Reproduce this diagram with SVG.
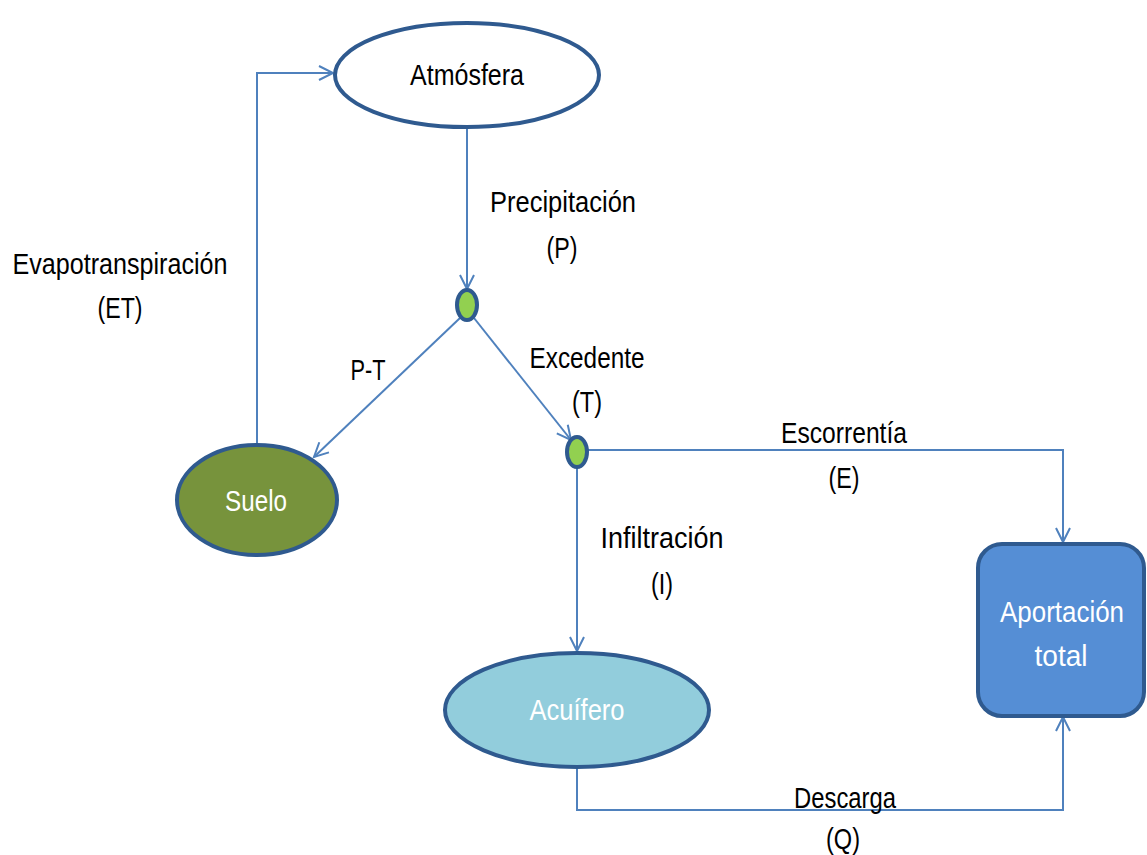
<svg xmlns="http://www.w3.org/2000/svg" width="1147" height="855" viewBox="0 0 1147 855">
<style>
text{font-family:"Liberation Sans",Arial,sans-serif;font-size:30px;text-anchor:middle;fill:#000}
.w{fill:#fff}
.c{fill:none;stroke:#4f81bd;stroke-width:2}
.n{stroke:#2f5a8f;stroke-width:4}
</style>
<defs>
<marker id="a" markerWidth="20" markerHeight="20" refX="15" refY="8" orient="auto" markerUnits="userSpaceOnUse" viewBox="0 0 20 16">
<path d="M1,1 L15,8 L1,15" fill="none" stroke="#4f81bd" stroke-width="2"/>
</marker>
</defs>
<rect width="1147" height="855" fill="#fff"/>
<g id="connectors">
<path class="c" d="M257,445 V73 H333" marker-end="url(#a)"/>
<path class="c" d="M467,128 V289" marker-end="url(#a)"/>
<path class="c" d="M460,318 L314,457" marker-end="url(#a)"/>
<path class="c" d="M474,318 L571,440" marker-end="url(#a)"/>
<path class="c" d="M587,450 H1063 V542" marker-end="url(#a)"/>
<path class="c" d="M577,467 V651" marker-end="url(#a)"/>
<path class="c" d="M577,767 V810 H1063 V717" marker-end="url(#a)"/>
</g>
<g id="atmosfera">
<ellipse class="n" cx="467" cy="75" rx="132" ry="52" fill="#fff"/>
<text x="467" y="85" textLength="114" lengthAdjust="spacingAndGlyphs">Atmósfera</text>
</g>
<g id="nodo1">
<ellipse class="n" cx="467" cy="305" rx="10" ry="15" fill="#92d050" stroke-width="3"/>
</g>
<g id="nodo2">
<ellipse class="n" cx="577" cy="452" rx="10" ry="15" fill="#92d050" stroke-width="3"/>
</g>
<g id="suelo">
<ellipse class="n" cx="257" cy="500" rx="80" ry="55" fill="#77933c"/>
<text class="w" x="256" y="511" textLength="62" lengthAdjust="spacingAndGlyphs">Suelo</text>
</g>
<g id="acuifero">
<ellipse class="n" cx="577" cy="710" rx="132" ry="57" fill="#92cddc"/>
<text class="w" x="577" y="720" textLength="95" lengthAdjust="spacingAndGlyphs">Acuífero</text>
</g>
<g id="aportacion">
<rect class="n" x="978" y="544" width="166" height="172" rx="24" fill="#558ed5"/>
<text class="w" x="1062" y="622" textLength="124" lengthAdjust="spacingAndGlyphs">Aportación</text>
<text class="w" x="1061" y="666" textLength="53" lengthAdjust="spacingAndGlyphs">total</text>
</g>
<g id="labels">
<text x="563" y="212" textLength="146" lengthAdjust="spacingAndGlyphs">Precipitación</text>
<text x="562" y="258" textLength="31" lengthAdjust="spacingAndGlyphs">(P)</text>
<text x="120" y="274" textLength="215" lengthAdjust="spacingAndGlyphs">Evapotranspiración</text>
<text x="120" y="318" textLength="45" lengthAdjust="spacingAndGlyphs">(ET)</text>
<text x="368" y="380" textLength="35" lengthAdjust="spacingAndGlyphs">P-T</text>
<text x="587" y="368" textLength="115" lengthAdjust="spacingAndGlyphs">Excedente</text>
<text x="587" y="412" textLength="30" lengthAdjust="spacingAndGlyphs">(T)</text>
<text x="844" y="443" textLength="126" lengthAdjust="spacingAndGlyphs">Escorrentía</text>
<text x="844" y="488" textLength="31" lengthAdjust="spacingAndGlyphs">(E)</text>
<text x="662" y="548" textLength="123" lengthAdjust="spacingAndGlyphs">Infiltración</text>
<text x="662" y="594" textLength="22" lengthAdjust="spacingAndGlyphs">(I)</text>
<text x="845" y="808" textLength="102" lengthAdjust="spacingAndGlyphs">Descarga</text>
<text x="843" y="849" textLength="34" lengthAdjust="spacingAndGlyphs">(Q)</text>
</g>
</svg>
